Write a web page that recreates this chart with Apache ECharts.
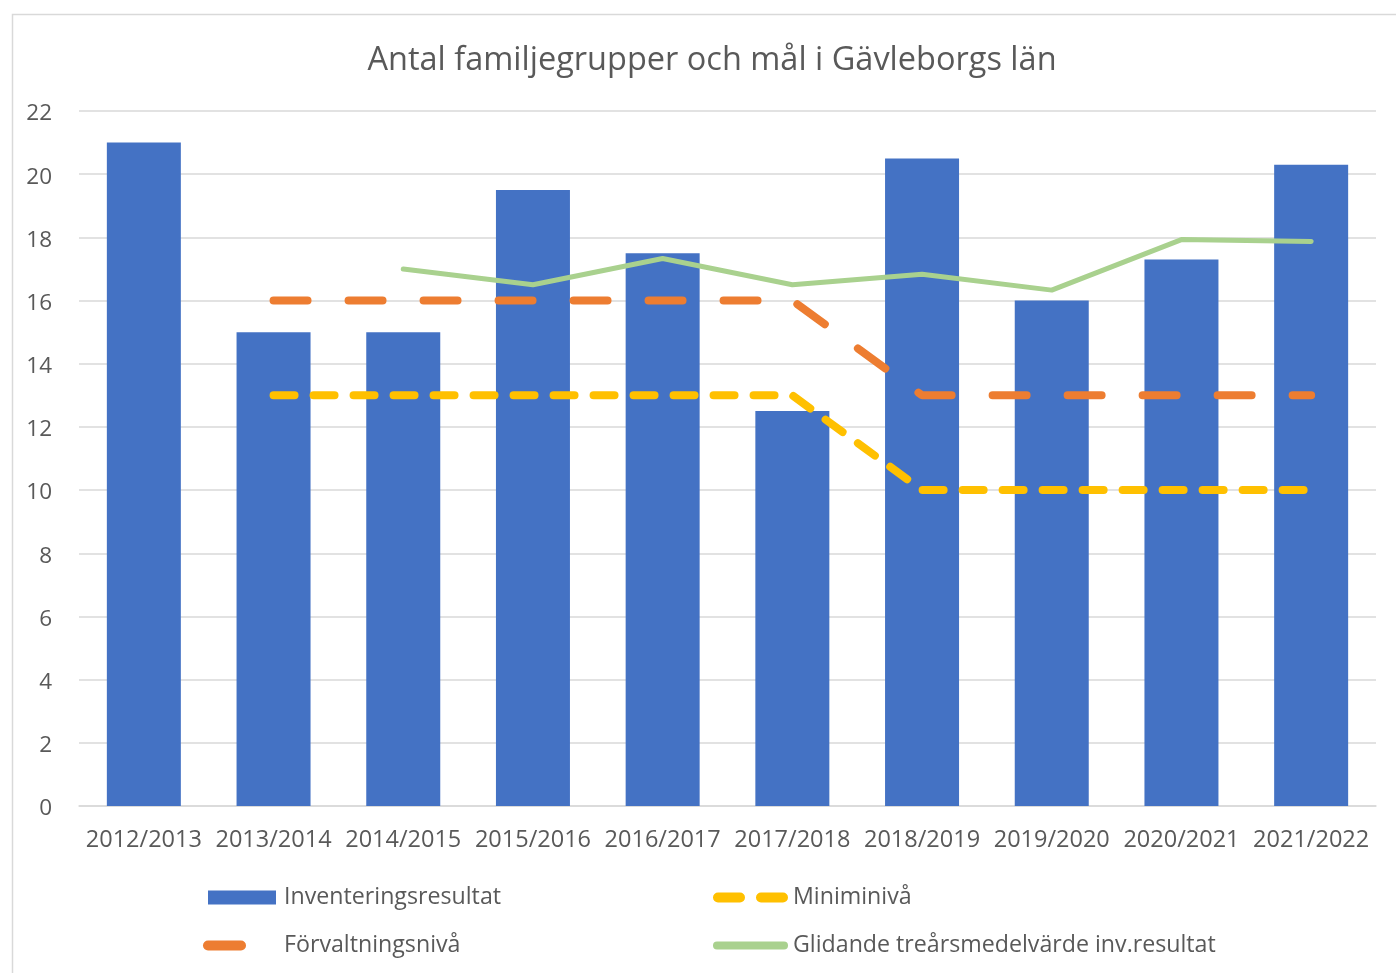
<!DOCTYPE html>
<html><head><meta charset="utf-8">
<script src="https://cdn.jsdelivr.net/npm/echarts@6/dist/echarts.min.js"></script>
<style>html,body{margin:0;padding:0;background:#fff}#c{width:1396px;height:973px}</style>
</head><body><div id="c"></div>
<script>
const categories = ['2012/2013','2013/2014','2014/2015','2015/2016','2016/2017','2017/2018','2018/2019','2019/2020','2020/2021','2021/2022'];
const inventering = [21, 15, 15, 19.5, 17.5, 12.5, 20.5, 16, 17.3, 20.3];
const miniminiva = [null, 13, 13, 13, 13, 13, 10, 10, 10, 10];
const forvaltning = [null, 16, 16, 16, 16, 16, 13, 13, 13, 13];
const glidande = [null, null, 17, 16.5, 17.33, 16.5, 16.83, 16.33, 17.93, 17.87];
const yTicks = [0, 2, 4, 6, 8, 10, 12, 14, 16, 18, 20, 22];

const FONT = '"Open Sans"';
const TXT = '#595959';
const chart = echarts.init(document.getElementById('c'), null, {renderer: 'canvas'});
const lt = (pl) => ({color: TXT, fontSize: 23.2, fontFamily: FONT, padding: [0, 0, 0, pl]});
const iconOrange = 'path://M5,0 H38 A5,5 0 0 1 38,10 H5 A5,5 0 0 1 5,0 Z';
const iconYellow = 'path://M5,0 H27 A5,5 0 0 1 27,10 H5 A5,5 0 0 1 5,0 Z M48,0 H70 A5,5 0 0 1 70,10 H48 A5,5 0 0 1 48,0 Z';
const iconGreen = 'path://M4,0 H71 A4,4 0 0 1 71,8 H4 A4,4 0 0 1 4,0 Z';
chart.setOption({
  animation: false,
  graphic: [{type: 'rect', left: 10, top: 12, shape: {width: 1400, height: 980}, style: {fill: 'none', stroke: '#d9d9d9', lineWidth: 1.5}, silent: true}],
  title: {text: 'Antal familjegrupper och mål i Gävleborgs län', left: 707, textAlign: 'center', top: 39,
    textStyle: {color: TXT, fontSize: 32.5, fontWeight: 'normal', fontFamily: FONT}},
  grid: {left: 79, right: 20, top: 111, bottom: 167, containLabel: false},
  xAxis: {type: 'category', data: categories,
    axisLine: {lineStyle: {color: '#d9d9d9', width: 1.5}}, axisTick: {show: false},
    axisLabel: {color: TXT, fontSize: 23.5, fontFamily: FONT, margin: 22, interval: 0}},
  yAxis: {type: 'value', min: yTicks[0], max: yTicks[yTicks.length-1], interval: 2,
    axisLine: {show: false}, axisTick: {show: false},
    axisLabel: {margin: 27, formatter: '{v|{value}}',
      rich: {v: {color: TXT, fontSize: 22.5, fontFamily: FONT, padding: [6, 0, 0, 0]}}},
    splitLine: {lineStyle: {color: '#d9d9d9', width: 1.5}}},
  legend: [
    {data: [{name: 'Inventeringsresultat', icon: 'rect'}], left: 208, top: 886, itemWidth: 68, itemHeight: 14, padding: 0, textStyle: lt(3), selectedMode: false},
    {data: [{name: 'Förvaltningsnivå', icon: iconOrange}], left: 203, top: 934, itemWidth: 43, itemHeight: 10, padding: 0, textStyle: lt(33), selectedMode: false},
    {data: [{name: 'Miniminivå', icon: iconYellow}], left: 713, top: 886, itemWidth: 75, itemHeight: 10, padding: 0, textStyle: lt(0), selectedMode: false},
    {data: [{name: 'Glidande treårsmedelvärde inv.resultat', icon: iconGreen}], left: 713, top: 934, itemWidth: 75, itemHeight: 8, padding: 0, textStyle: lt(0), selectedMode: false}
  ],
  series: [
    {name: 'Inventeringsresultat', type: 'bar', data: inventering, barWidth: 74, itemStyle: {color: '#4472c4'}, z: 1},
    {name: 'Miniminivå', type: 'line', data: miniminiva, symbol: 'none',
      lineStyle: {color: '#ffc000', width: 8, type: [21, 19], cap: 'round'}, itemStyle: {color: '#ffc000'}, z: 3},
    {name: 'Förvaltningsnivå', type: 'line', data: forvaltning, symbol: 'none',
      lineStyle: {color: '#ed7d31', width: 8, type: [34, 41], cap: 'round'}, itemStyle: {color: '#ed7d31'}, z: 3},
    {name: 'Glidande treårsmedelvärde inv.resultat', type: 'line', data: glidande, symbol: 'none',
      lineStyle: {color: '#a9d18e', width: 5, cap: 'round'}, itemStyle: {color: '#a9d18e'}, z: 4}
  ]
});
</script></body></html>
